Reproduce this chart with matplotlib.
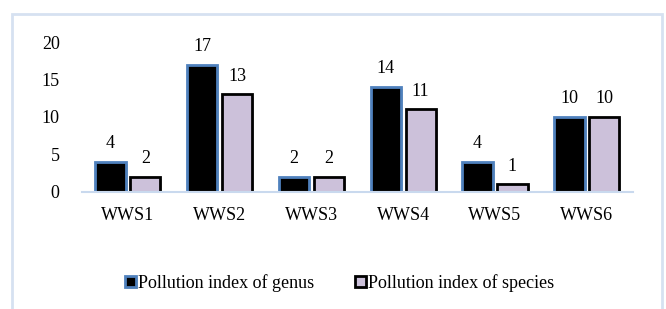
import matplotlib
matplotlib.use("Agg")
from matplotlib import pyplot as plt
from matplotlib import patheffects as pe
from matplotlib.patches import Rectangle
import numpy as np

sites = ["WWS1", "WWS2", "WWS3", "WWS4", "WWS5", "WWS6"]
genus = [4, 17, 2, 14, 4, 10]
species = [2, 13, 2, 11, 1, 10]
yticks = [0, 5, 10, 15, 20]

plt.rcParams['font.family'] = ['Liberation Serif', 'DejaVu Serif']
fs = 13

fig = plt.figure(figsize=(6.66, 3.09), dpi=100)
ax = fig.add_axes([0.123, 0.379, 0.827, 0.485])

# outer light blue frame
fig.patches.append(Rectangle((12 / 666, -0.05), 650 / 666, 1.05 - 14 / 309,
                             transform=fig.transFigure, fill=False,
                             edgecolor='#d6e1f1', linewidth=2, clip_on=False))

x = np.arange(len(sites))
w = 0.33
off = 0.19
shadow = [pe.SimplePatchShadow(offset=(1.5, -1.5), shadow_rgbFace='#999999', alpha=0.5), pe.Normal()]

b1 = ax.bar(x - off, genus, w, color='black', edgecolor='#4f81bd', linewidth=2,
            label='Pollution index of genus', path_effects=shadow)
b2 = ax.bar(x + off, species, w, color='#ccc1da', edgecolor='black', linewidth=2,
            label='Pollution index of species', path_effects=shadow)

for xi, v in zip(x - off, genus):
    ax.annotate(str(v), (xi, v), xytext=(0, 7), textcoords='offset points',
                ha='center', va='bottom', fontsize=fs)
for xi, v in zip(x + off, species):
    ax.annotate(str(v), (xi, v), xytext=(0, 7), textcoords='offset points',
                ha='center', va='bottom', fontsize=fs)

ax.set_xlim(-0.5, len(sites) - 0.5)
ax.set_ylim(0, 20)
ax.set_yticks(yticks)
ax.set_xticks(x)
ax.set_xticklabels(sites)
ax.tick_params(axis='both', length=0, labelsize=fs)
ax.tick_params(axis='y', pad=16)
ax.tick_params(axis='x', pad=11)
for s in ['top', 'right', 'left']:
    ax.spines[s].set_visible(False)
ax.spines['bottom'].set_color('#c9d9ee')
ax.spines['bottom'].set_linewidth(1.5)

fig.legend(handles=[b1, b2], loc='center', bbox_to_anchor=(0.51, 0.085), ncol=2,
           frameon=False, fontsize=fs, handlelength=0.6, handleheight=0.6,
           handletextpad=0.1, columnspacing=2.3)

fig.savefig('out.png', dpi=100)
